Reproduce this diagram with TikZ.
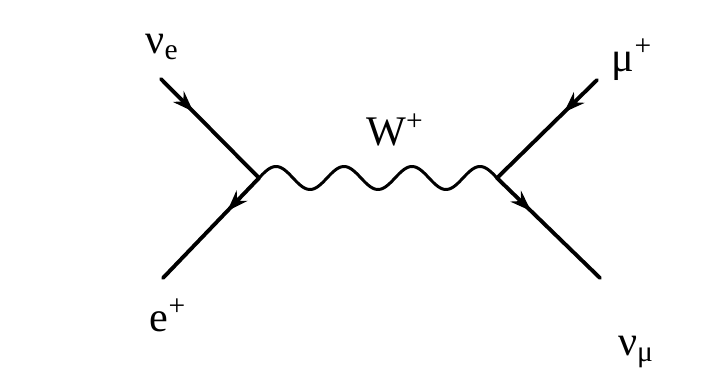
\documentclass[tikz,border=0pt]{standalone}
\usepackage{fontspec}
\setmainfont{Liberation Serif}
\newfontfamily\labelfont{Liberation Serif}
\usetikzlibrary{arrows.meta, decorations.markings}

\tikzset{
  fermion/.style={line width=2.2pt, line cap=round,
    postaction={decorate, decoration={markings,
      mark=at position 0.33 with {\arrow{Stealth[length=0.42cm, width=0.3cm]}}}}},
  boson/.style={line width=1.7pt, line join=round},
  label/.style={inner sep=0pt, font=\labelfont\fontsize{24}{28}\selectfont}
}

\begin{document}
\begin{tikzpicture}[>=Stealth, thick]
      \useasboundingbox (0,0) rectangle (14.56,7.42);

      % Vertices and outer ends
      \coordinate (vl) at (5.18,3.86);
      \coordinate (vr) at (9.94,3.86);
      \coordinate (nue) at (3.22,5.84);
      \coordinate (ep) at (3.26,1.86);
      \coordinate (mup) at (11.94,5.82);
      \coordinate (numu) at (12.00,1.86);

      % Fermion lines
      \draw[fermion] (nue) -- (vl);
      \draw[fermion] (vl) -- (ep);
      \draw[fermion] (mup) -- (vr);
      \draw[fermion] (vr) -- (numu);

      % W propagator, 3.5 waves from vl to vr
      \draw[boson, shift={(vl)}] plot[domain=0:4.76, samples=140, smooth]
        (\x, {0.23*sin(\x*360/1.36)});

      % Labels
      \node[label] (lnue) at (3.24,6.48) {ν\textsubscript{e}};
      \node[label] (lep) at (3.36,1.12) {e\textsuperscript{+}};
      \node[label] (lmup) at (12.64,6.22) {μ\textsuperscript{+}};
      \node[label] (lnumu) at (12.72,0.38) {ν\textsubscript{μ}};
      \node[label] (lw) at (7.9,4.82) {W\textsuperscript{+}};
    \end{tikzpicture}
\end{document}
